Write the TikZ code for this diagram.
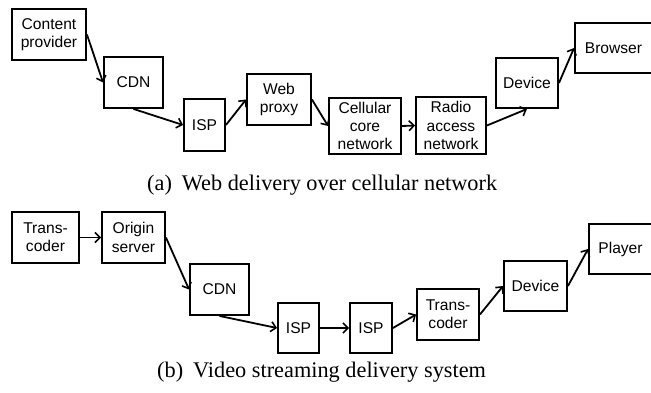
\documentclass[tikz,border=0pt]{standalone}
\usepackage{fontspec}
\setmainfont{Liberation Serif}
\newfontfamily\boxfont{Liberation Sans}
\usetikzlibrary{arrows.meta}

\tikzset{
  blk/.style={draw=black, line width=1.9pt, inner sep=0pt, align=center,
    font=\boxfont\fontsize{15.6}{18.3}\selectfont},
  flow/.style={line width=1.8pt, -{Straight Barb[length=5pt,width=10pt,line width=1.6pt]}},
  subcaption/.style={anchor=base west, inner sep=0pt, font=\fontsize{22.3}{26}\selectfont}
}

\begin{document}
\begin{tikzpicture}[x=1pt, y=-1pt]
  \useasboundingbox (0,0) rectangle (651,392);
  \clip (0,0) rectangle (651,392);

  % (a) web delivery chain
  \node[blk, minimum width=74pt, minimum height=51pt] (cp)    at (49,34.5)    {Content\\provider};
  \node[blk, minimum width=59pt, minimum height=51pt] (cdna)  at (133.5,82.5) {CDN};
  \node[blk, minimum width=41pt, minimum height=52pt] (ispa)  at (204.5,125)  {ISP};
  \node[blk, minimum width=64pt, minimum height=51pt] (web)   at (279,99.5)   {Web\\proxy};
  \node[blk, minimum width=72pt, minimum height=56pt] (cell)  at (365,126)    {Cellular\\core\\network};
  \node[blk, minimum width=70pt, minimum height=57pt] (radio) at (451,125.5)  {Radio\\access\\network};
  \node[blk, minimum width=62pt, minimum height=50pt] (deva)  at (527,83)     {Device};
  \node[blk, minimum width=77pt, minimum height=50pt] (brow)  at (613.5,48)   {Browser};

  \draw[flow] (cp.east)    -- (cdna.west);
  \draw[flow] (cdna.south) -- (ispa.west);
  \draw[flow] (ispa.east)  -- (web.west);
  \draw[flow] (web.east)   -- (cell.west);
  \draw[flow] (cell.east)  -- (radio.west);
  \draw[flow] (radio.east) -- (deva.south);
  \draw[flow] (deva.east)  -- (brow.west);

  \node[subcaption] (capa) at (147,190) {(a)\hspace{10pt}Web delivery over cellular network};

  % (b) video streaming chain
  \node[blk, minimum width=67pt, minimum height=51pt] (tca)   at (45.5,237.5)  {Trans-\\coder};
  \node[blk, minimum width=63pt, minimum height=51pt] (orig)  at (133.5,237.5) {Origin\\server};
  \node[blk, minimum width=59pt, minimum height=51pt] (cdnb)  at (219.5,289.5) {CDN};
  \node[blk, minimum width=41pt, minimum height=50pt] (ispb)  at (298.5,328)   {ISP};
  \node[blk, minimum width=42pt, minimum height=50pt] (ispc)  at (371,328)     {ISP};
  \node[blk, minimum width=62pt, minimum height=51pt] (tcb)   at (448,314.5)   {Trans-\\coder};
  \node[blk, minimum width=63pt, minimum height=50pt] (devb)  at (535.5,286)   {Device};
  \node[blk, minimum width=63pt, minimum height=50pt] (play)  at (620.5,249)   {Player};

  \draw[flow] (tca.east)   -- (orig.west);
  \draw[flow] (orig.east)  -- (cdnb.west);
  \draw[flow] (cdnb.south) -- (ispb.west);
  \draw[flow] (ispb.east)  -- (ispc.west);
  \draw[flow] (ispc.east)  -- (tcb.west);
  \draw[flow] (tcb.east)   -- (devb.west);
  \draw[flow] (devb.east)  -- (play.west);

  \node[subcaption] (capb) at (157,377) {(b)\hspace{10pt}Video streaming delivery system};
\end{tikzpicture}
\end{document}
